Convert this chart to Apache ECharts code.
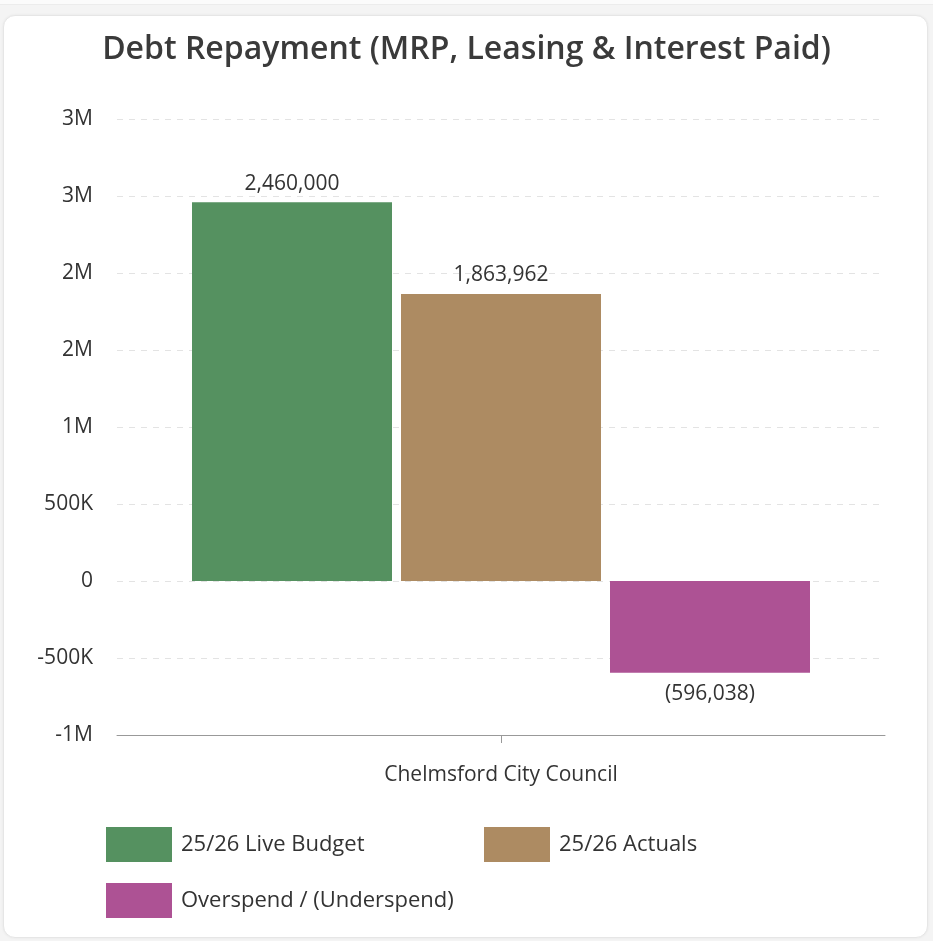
<!DOCTYPE html>
<html>
<head>
<meta charset="utf-8">
<script src="https://cdn.jsdelivr.net/npm/echarts@6/dist/echarts.min.js"></script>
<style>
  html, body { margin: 0; padding: 0; background: #f4f4f4; }
  #card {
    position: absolute; left: 3px; top: 15px; width: 923px; height: 921px;
    background: #fff; border: 1px solid #e6e6e6; border-radius: 12px;
    box-shadow: 0 0 3px rgba(0,0,0,0.06);
  }
  #topbar { position: absolute; left: 0; top: 0; width: 933px; height: 4px; background: #fbfbfb; border-bottom: 1px solid #ececec; }
  #chart { position: absolute; left: 0; top: 0; width: 933px; height: 941px; }
</style>
</head>
<body>
<div id="topbar"></div>
<div id="card"></div>
<div id="chart"></div>
<script>
// Debt repayment figures for the council (single category, three series)
const categories = ['Chelmsford City Council'];
const liveBudget = [2460000];
const actuals = [1863962];
const variance = [-596038];
const seriesNames = ['25/26 Live Budget', '25/26 Actuals', 'Overspend / (Underspend)'];
const seriesColors = ['#559160', '#ad8b62', '#ad5294'];

const FONT = '"Open Sans", "Noto Sans", sans-serif';

function axisFmt(v) {
  const a = Math.abs(v);
  if (a >= 1e6) return (v < 0 ? '-' : '') + Math.round(a / 1e6) + 'M';
  if (a >= 1e3) return (v < 0 ? '-' : '') + Math.round(a / 1e3) + 'K';
  return String(v);
}
function valueFmt(v) {
  const s = Math.abs(v).toLocaleString('en-US');
  return v < 0 ? '(' + s + ')' : s;
}

const chart = echarts.init(document.getElementById('chart'));

const legendBase = {
  orient: 'horizontal',
  itemWidth: 66,
  itemHeight: 35,
  itemGap: 10,
  textStyle: { fontFamily: FONT, fontSize: 22, color: '#333', padding: [3, 0, 0, 4] },
  icon: 'rect'
};

function barSeries(name, data, color, pos, dist) {
  return {
    name: name,
    type: 'bar',
    data: data,
    barWidth: 200,
    barGap: '4.5%',
    itemStyle: { color: color },
    label: {
      show: true,
      position: pos,
      distance: dist,
      formatter: p => valueFmt(p.value),
      fontFamily: FONT,
      fontSize: 21,
      color: '#333'
    }
  };
}

chart.setOption({
  animation: false,
  title: {
    text: 'Debt Repayment (MRP, Leasing & Interest Paid)',
    left: 'center',
    top: 29,
    textStyle: { fontFamily: FONT, fontSize: 32, fontWeight: 600, color: '#3a3a3a' }
  },
  legend: [
    Object.assign({}, legendBase, { data: [seriesNames[0]], left: 101, top: 822 }),
    Object.assign({}, legendBase, { data: [seriesNames[1]], left: 479, top: 822 }),
    Object.assign({}, legendBase, { data: [seriesNames[2]], left: 101, top: 878 })
  ],
  grid: { left: 117, right: 48, top: 119, bottom: 206 },
  xAxis: {
    type: 'category',
    data: categories,
    axisLine: { onZero: false, lineStyle: { color: '#999', width: 1 } },
    axisTick: { show: true, alignWithLabel: true, length: 8, lineStyle: { color: '#999' } },
    axisLabel: { fontFamily: FONT, fontSize: 21, color: '#333', margin: 30 }
  },
  yAxis: {
    type: 'value',
    min: -1000000,
    max: 3000000,
    interval: 500000,
    axisLine: { show: false },
    axisTick: { show: false },
    axisLabel: { fontFamily: FONT, fontSize: 21, color: '#333', margin: 24, formatter: axisFmt, padding: [3, 0, 0, 0] },
    splitLine: { lineStyle: { color: '#e3e3e3', type: [6, 6] } }
  },
  series: [
    barSeries(seriesNames[0], liveBudget, seriesColors[0], 'top', 8),
    barSeries(seriesNames[1], actuals, seriesColors[1], 'top', 8),
    barSeries(seriesNames[2], variance, seriesColors[2], 'bottom', 11)
  ]
});
</script>
</body>
</html>
